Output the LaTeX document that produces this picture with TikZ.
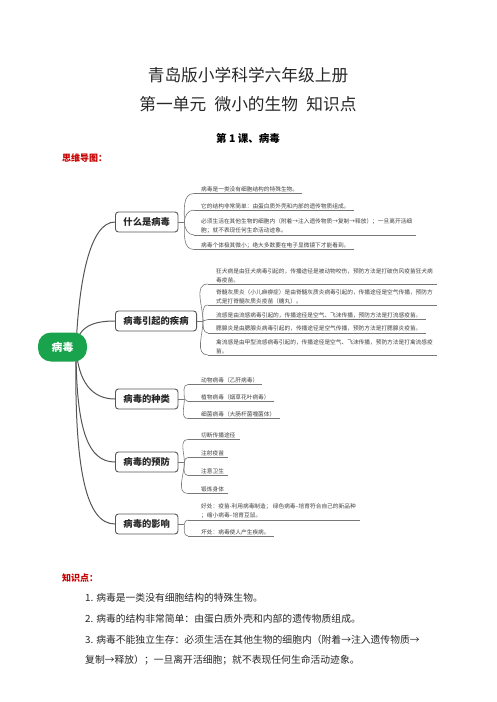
\documentclass[tikz,border=0pt]{standalone}
\usepackage{fontspec}
\setmainfont{Noto Sans CJK SC}
\usetikzlibrary{backgrounds}
\definecolor{rootgreen}{RGB}{24,163,76}
\definecolor{lineg}{RGB}{85,85,85}
\definecolor{subg}{RGB}{120,120,120}
\definecolor{redlab}{RGB}{200,0,0}
\definecolor{txt}{RGB}{40,40,40}
\tikzset{
 topic/.style={draw=lineg, line width=0.9pt, rounded corners=3pt, fill=white,
   font=\fontsize{9.3}{10}\selectfont\bfseries, text=txt, minimum height=20pt,
   inner xsep=8pt, inner ysep=0pt, anchor=west},
 leaf/.style={font=\fontsize{5.7}{8.7}\selectfont, text=black!75, inner sep=0pt,
   anchor=south west, align=left},
 uline/.style={draw=subg, line width=0.6pt},
 conn/.style={draw=lineg, line width=1pt},
 subc/.style={draw=subg, line width=0.6pt},
 body/.style={font=\fontsize{9.8}{12}\selectfont, text=txt, inner sep=0pt, anchor=west},
 redhead/.style={font=\fontsize{9}{11}\selectfont\bfseries, text=redlab, inner sep=0pt, anchor=west},
}
\begin{document}
\begin{tikzpicture}[x=1pt,y=-1pt]
\useasboundingbox (0,0) rectangle (496,702);
% titles
\node[font=\fontsize{16.7}{20}\selectfont, text=txt] (t1) at (248,75) {青岛版小学科学六年级上册};
\node[font=\fontsize{16.7}{20}\selectfont, text=txt] (t2) at (248,104) {第一单元\hspace{0.5em}微小的生物\hspace{0.5em}知识点};
\node[font=\fontsize{10.5}{12}\selectfont\bfseries, text=black] (t3) at (248,138) {第 1 课、病毒};
\node[redhead] (h1) at (62,158) {思维导图：};
% root
\node[fill=rootgreen, rounded corners=13pt, minimum width=49pt, minimum height=29pt,
  text=white, font=\fontsize{10.8}{12}\selectfont\bfseries, inner sep=0pt] (root) at (62.5,347) {病毒};
% topics
\node[topic] (b1) at (115,222) {什么是病毒};
\node[topic] (b2) at (115,321) {病毒引起的疾病};
\node[topic] (b3) at (115,399) {病毒的种类};
\node[topic] (b4) at (115,462) {病毒的预防};
\node[topic] (b5) at (115,524) {病毒的影响};
% group 1
\coordinate (u11) at (194,193.5);
\coordinate (u12) at (194,210);
\coordinate (u13) at (194,235);
\coordinate (u14) at (194,249.5);
\node[leaf] (n11) at (201,192.3) {病毒是一类没有细胞结构的特殊生物。};
\node[leaf] (n12) at (201,208.8) {它的结构非常简单：由蛋白质外壳和内部的遗传物质组成。};
\node[leaf] (n13) at (201,233.8) {必须生活在其他生物的细胞内（附着→注入遗传物质→复制→释放）；一旦离开活细\\胞；就不表现任何生命活动迹象。};
\node[leaf] (n14) at (201,248.3) {病毒个体极其微小；绝大多数要在电子显微镜下才能看到。};
% group 2
\coordinate (u21) at (208,284);
\coordinate (u22) at (208,305);
\coordinate (u23) at (208,319.5);
\coordinate (u24) at (208,333);
\coordinate (u25) at (208,355);
\node[leaf] (n21) at (216,282.8) {狂犬病是由狂犬病毒引起的，传播途径是被动物咬伤，预防方法是打破伤风疫苗狂犬病\\毒疫苗。};
\node[leaf] (n22) at (216,303.8) {脊髓灰质炎（小儿麻痹症）是由脊髓灰质炎病毒引起的，传播途径是空气传播，预防方\\式是打脊髓灰质炎疫苗（糖丸）。};
\node[leaf] (n23) at (216,318.3) {流感是由流感病毒引起的，传播途径是空气、飞沫传播，预防方法是打流感疫苗。};
\node[leaf] (n24) at (216,331.8) {腮腺炎是由腮腺炎病毒引起的，传播途径是空气传播，预防方法是打腮腺炎疫苗。};
\node[leaf] (n25) at (216,353.8) {禽流感是由甲型流感病毒引起的，传播途径是空气、飞沫传播，预防方法是打禽流感疫\\苗。};
% group 3
\coordinate (u31) at (188,384.5);
\coordinate (u32) at (188,401.5);
\coordinate (u33) at (188,418.5);
\node[leaf] (n31) at (201,383.3) {动物病毒（乙肝病毒）};
\node[leaf] (n32) at (201,400.3) {植物病毒（烟草花叶病毒）};
\node[leaf] (n33) at (201,417.3) {细菌病毒（大肠杆菌噬菌体）};
% group 4
\coordinate (u41) at (188,439.5);
\coordinate (u42) at (188,457.5);
\coordinate (u43) at (188,475.5);
\coordinate (u44) at (188,493.5);
\node[leaf] (n41) at (201,438.3) {切断传播途径};
\node[leaf] (n42) at (201,456.3) {注射疫苗};
\node[leaf] (n43) at (201,474.3) {注意卫生};
\node[leaf] (n44) at (201,492.3) {锻炼身体};
% group 5
\coordinate (u51) at (188,520);
\coordinate (u52) at (188,536);
\node[leaf] (n51) at (201,518.8) {好处：疫苗-利用病毒制造； 绿色病毒--培育符合自己的新品种\\；缩小病毒--培育豆鼠。};
\node[leaf] (n52) at (201,534.8) {坏处：病毒使人产生疾病。};
% knowledge
\node[redhead] (h2) at (62,578) {知识点：};
\node[body] (k1) at (85,598) {1. 病毒是一类没有细胞结构的特殊生物。};
\node[body] (k2) at (85,619) {2. 病毒的结构非常简单：由蛋白质外壳和内部的遗传物质组成。};
\node[body] (k3) at (85,640) {3. 病毒不能独立生存：必须生活在其他生物的细胞内（附着→注入遗传物质→};
\node[body] (k4) at (85,660) {复制→释放）；一旦离开活细胞；就不表现任何生命活动迹象。};
% connectors
\begin{scope}[on background layer]
\coordinate (rs) at ([xshift=13.5pt]root.center);
\draw[conn] (rs) .. controls (79,280) and (90,222) .. (b1.west);
\draw[conn] (rs) .. controls (78,327) and (92,321) .. (b2.west);
\draw[conn] (rs) .. controls (78,382) and (92,399) .. (b3.west);
\draw[conn] (rs) .. controls (76,430) and (88,462) .. (b4.west);
\draw[conn] (rs) .. controls (74,470) and (86,524) .. (b5.west);
% forks
\draw[subc] (b1.east) -- ++(6,0) coordinate (f1);
\draw[subc] (b2.east) -- ++(6,0) coordinate (f2);
\draw[subc] (b3.east) -- ++(6,0) coordinate (f3);
\draw[subc] (b4.east) -- ++(6,0) coordinate (f4);
\draw[subc] (b5.east) -- ++(6,0) coordinate (f5);
\draw[subc] (f1) to[out=90,in=180] (u11);
\draw[subc] (f1) to[out=90,in=180] (u12);
\draw[subc] (f1) to[out=-90,in=180] (u13);
\draw[subc] (f1) to[out=-90,in=180] (u14);
\draw[subc] (f2) to[out=90,in=180] (u21);
\draw[subc] (f2) to[out=90,in=180] (u22);
\draw[subc] (f2) to[out=0,in=180] (u23);
\draw[subc] (f2) to[out=-90,in=180] (u24);
\draw[subc] (f2) to[out=-90,in=180] (u25);
\draw[subc] (f3) to[out=90,in=180] (u31);
\draw[subc] (f3) to[out=0,in=180] (u32);
\draw[subc] (f3) to[out=-90,in=180] (u33);
\draw[subc] (f4) to[out=90,in=180] (u41);
\draw[subc] (f4) to[out=90,in=180] (u42);
\draw[subc] (f4) to[out=-90,in=180] (u43);
\draw[subc] (f4) to[out=-90,in=180] (u44);
\draw[subc] (f5) to[out=90,in=180] (u51);
\draw[subc] (f5) to[out=-90,in=180] (u52);
% underlines
\foreach \u/\n in {u11/n11,u12/n12,u13/n13,u14/n14,u21/n21,u22/n22,u23/n23,u24/n24,u25/n25,
  u31/n31,u32/n32,u33/n33,u41/n41,u42/n42,u43/n43,u44/n44,u51/n51,u52/n52}
  \draw[uline] (\u) -- ([xshift=4pt]\u -| \n.east);
\end{scope}
\end{tikzpicture}
\end{document}
